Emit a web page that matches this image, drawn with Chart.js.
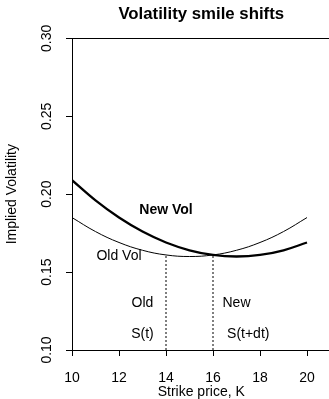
<!DOCTYPE html>
<html><head><meta charset="utf-8">
<script src="https://cdn.jsdelivr.net/npm/chart.js@4/dist/chart.umd.min.js"></script>
<style>
html,body{margin:0;padding:0;overflow:hidden;background:#fff;width:329px;height:399px}
#wrap{width:402px;height:399px}
</style></head>
<body><div id="wrap"><canvas id="c" width="402" height="399"></canvas></div>
<script>
// ---- data ----
const strikes = [10, 11, 12, 13, 14, 15, 16, 17, 18, 19, 20];
const oldVol  = [0.185, 0.176, 0.169, 0.164, 0.161, 0.160, 0.161, 0.164, 0.169, 0.176, 0.185];
const newVol  = [0.209, 0.196, 0.185, 0.176, 0.169, 0.164, 0.161, 0.160, 0.161, 0.164, 0.169];
const xTicks = [10, 12, 14, 16, 18, 20];
const yTicks = [0.10, 0.15, 0.20, 0.25, 0.30];
const oldSpotX = [14, 14];
const oldSpotY = [0.10, 0.161];
const newSpotX = [16, 16];
const newSpotY = [0.10, 0.161];
const noteTexts = ['New Vol', 'Old Vol', 'Old', 'S(t)', 'New', 'S(t+dt)'];
const noteX = [14, 12, 13, 13, 17, 17.5];
const noteY = [0.19, 0.16, 0.13, 0.11, 0.13, 0.11];

const FONT = '"Liberation Sans", Arial, Helvetica, sans-serif';
const toXY = (xs, ys) => xs.map((x, i) => ({x: x, y: ys[i]}));

const notesPlugin = {
  id: 'notes',
  afterDatasetsDraw(chart) {
    const ctx = chart.ctx, xs = chart.scales.x, ys = chart.scales.y;
    ctx.save();
    ctx.fillStyle = '#000';
    ctx.textAlign = 'center';
    ctx.textBaseline = 'middle';
    noteTexts.forEach((t, i) => {
      ctx.font = (i === 0 ? 'bold ' : '') + '14px ' + FONT;
      ctx.fillText(t, xs.getPixelForValue(noteX[i]), ys.getPixelForValue(noteY[i]));
    });
    ctx.restore();
  }
};

// centre the main title over the plotting region (as R does)
const titleOverPlot = {
  id: 'titleOverPlot',
  afterLayout(chart) {
    const t = chart.titleBlock;
    if (t) {
      t.left = chart.chartArea.left;
      t.right = chart.chartArea.right;
      t.width = t.right - t.left;
    }
  }
};

new Chart(document.getElementById('c'), {
  type: 'line',
  data: {
    datasets: [
      {label: 'Old Vol', data: toXY(strikes, oldVol), borderColor: '#000', borderWidth: 1, tension: 0.4, pointRadius: 0},
      {label: 'New Vol', data: toXY(strikes, newVol), borderColor: '#000', borderWidth: 2.3, tension: 0.4, pointRadius: 0},
      {label: 'S(t)', data: toXY(oldSpotX, oldSpotY), borderColor: '#000', borderWidth: 1, borderDash: [2, 2], pointRadius: 0},
      {label: 'S(t+dt)', data: toXY(newSpotX, newSpotY), borderColor: '#000', borderWidth: 1, borderDash: [2, 2], pointRadius: 0}
    ]
  },
  options: {
    responsive: false,
    animation: false,
    devicePixelRatio: 1,
    layout: {padding: {left: 0, right: 71.5, top: 0, bottom: 0}},
    plugins: {
      legend: {display: false},
      tooltip: {enabled: false},
      title: {display: true, text: 'Volatility smile shifts', color: '#000',
        font: {family: FONT, size: 16.8, weight: 'bold'}, padding: {top: 4, bottom: 14.2}}
    },
    scales: {
      x: {
        type: 'linear', position: 'bottom', min: 10, max: 21,
        afterFit(s) { s.height = 49; },
        afterBuildTicks(s) { s.ticks = xTicks.map(v => ({value: v})); },
        ticks: {color: '#000', font: {family: FONT, size: 14}, padding: 13.6, maxRotation: 0, autoSkip: false},
        grid: {display: true, drawOnChartArea: false, drawTicks: true, tickLength: 6, color: '#000'},
        border: {display: true, color: '#000', width: 1},
        title: {display: true, text: 'Strike price, K', color: '#000', font: {family: FONT, size: 14, lineHeight: 1}, padding: {top: 0, bottom: 0}}
      },
      x2: {
        type: 'linear', position: 'top', min: 10, max: 21,
        afterFit(s) { s.height = 0; },
        ticks: {display: false},
        grid: {display: false, drawTicks: false},
        border: {display: true, color: '#000', width: 1}
      },
      y: {
        type: 'linear', position: 'left', min: 0.10, max: 0.30,
        afterFit(s) { s.width = 72; },
        afterBuildTicks(s) { s.ticks = yTicks.map(v => ({value: v})); },
        ticks: {color: '#000', font: {family: FONT, size: 14}, padding: 5.5, minRotation: 90, maxRotation: 90,
          crossAlign: 'center', autoSkip: false, callback: v => Number(v).toFixed(2)},
        grid: {display: true, drawOnChartArea: false, drawTicks: true, tickLength: 6, color: '#000'},
        border: {display: true, color: '#000', width: 1},
        title: {display: true, text: 'Implied Volatility', color: '#000', font: {family: FONT, size: 14}, padding: {top: 4, bottom: 0}}
      }
    }
  },
  plugins: [notesPlugin, titleOverPlot]
});
</script>
</body></html>
